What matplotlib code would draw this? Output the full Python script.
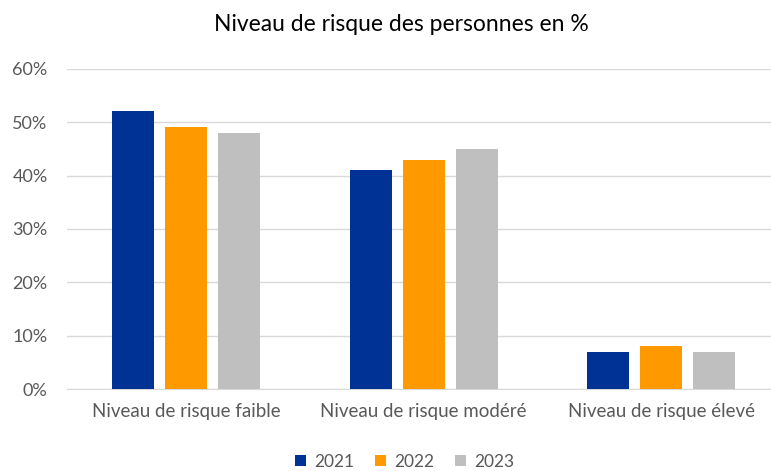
import matplotlib.pyplot as plt
import numpy as np
from matplotlib.ticker import PercentFormatter

categories = ["Niveau de risque faible", "Niveau de risque modéré", "Niveau de risque élevé"]
years = ["2021", "2022", "2023"]
values_2021 = [52, 41, 7]
values_2022 = [49, 43, 8]
values_2023 = [48, 45, 7]
colors = ["#003296", "#FF9900", "#BFBFBF"]

plt.rcParams["font.family"] = ["Lato", "DejaVu Sans"]

fig = plt.figure(figsize=(7.71, 4.71), dpi=100)
# plot area runs a bit past the right edge, as in the original
ax = fig.add_axes([0.087, 0.174, 0.925, 0.68])

x = np.arange(len(categories))
width = 0.177
step = 0.223
series = [values_2021, values_2022, values_2023]
for i, (yr, vals, col) in enumerate(zip(years, series, colors)):
    ax.bar(x + (i - 1) * step, vals, width, color=col, label=yr, zorder=3)

ax.set_xlim(-0.5, 2.5)
ax.set_ylim(0, 60)
ax.set_yticks(np.arange(0, 61, 10))
ax.yaxis.set_major_formatter(PercentFormatter(decimals=0))
ax.grid(axis="y", color="#D9D9D9", linewidth=1, zorder=0)
for s in ["top", "right", "left"]:
    ax.spines[s].set_visible(False)
ax.spines["bottom"].set_color("#D9D9D9")
ax.tick_params(axis="y", length=0, labelsize=13, colors="#595959", pad=14)
ax.tick_params(axis="x", length=0, labelsize=13.5, colors="#595959", pad=10)
ax.set_xticks(x)
ax.set_xticklabels(categories)

fig.text(0.521, 0.947, "Niveau de risque des personnes en %", ha="center", va="center",
         fontsize=16.5, color="#000000")

handles, labels = ax.get_legend_handles_labels()
fig.legend(handles, labels, loc="center", bbox_to_anchor=(0.525, 0.02), ncol=3,
           frameon=False, fontsize=12.5, labelcolor="#595959", handlelength=0.6,
           handleheight=0.6, handletextpad=0.5, columnspacing=1.2)

fig.savefig("out.png", dpi=100)
